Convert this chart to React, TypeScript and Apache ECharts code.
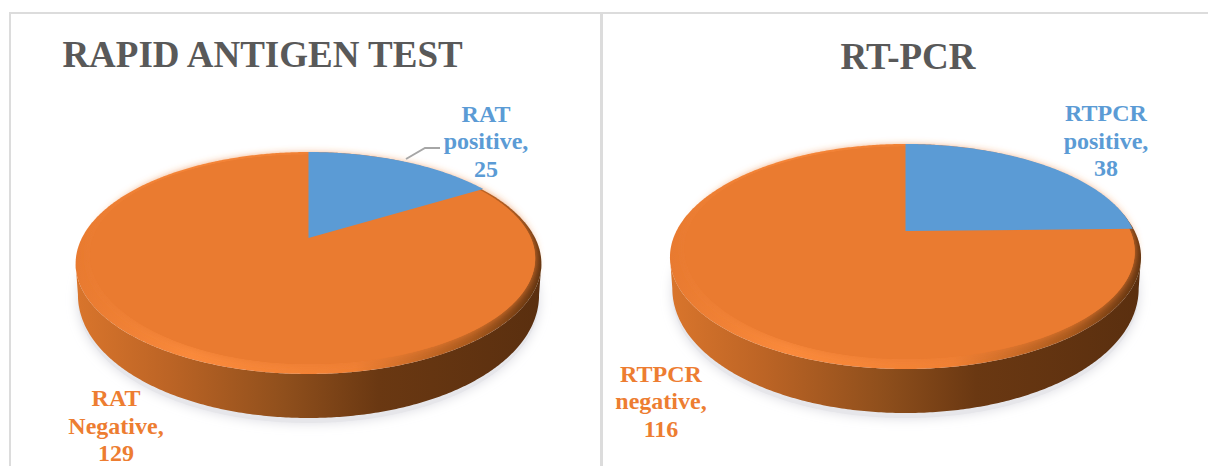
import React, { useEffect, useRef } from "react";
import * as echarts from "echarts";

const ratTitle = "RAPID ANTIGEN TEST";
const ratCategories = ["RAT positive", "RAT Negative"];
const ratValues = [25, 129];
const pcrTitle = "RT-PCR";
const pcrCategories = ["RTPCR positive", "RTPCR negative"];
const pcrValues = [38, 116];
const sliceColors = ["#5B9BD5", "#EA7B30"];

type Layout = {
  cx: number; cy: number; a: number; b: number; k: number;
  labels: number[][];
};
const ratLayout: Layout = {
  cx: 308.5, cy: 238, a: 228, b: 103.5, k: 0.2037,
  labels: [[486, 141], [116, 425.5]],
};
const pcrLayout: Layout = {
  cx: 905.5, cy: 231, a: 230.5, b: 104.9, k: 0.2055,
  labels: [[1106, 140.5], [661, 401]],
};

const project = (L: Layout, th: number) => {
  const u = Math.sin(th), v = Math.cos(th), w = 1 + L.k * v;
  return { x: (L.a * u) / w, y: -(L.b * v) / w, v, u };
};
const facePoint = (L: Layout, th: number) => {
  const p = project(L, th);
  const inset = (p.u > 0 ? 0.01 : 0.04) * (1 - p.v);
  return [L.cx + p.x * (1 - inset), L.cy + p.y];
};
const glowPoint = (L: Layout, th: number) => {
  const p = facePoint(L, th);
  return [L.cx + (p[0] - L.cx) * 0.985, L.cy + (p[1] - L.cy) * 0.97];
};
const rimPoint = (L: Layout, th: number) => {
  const p = project(L, th);
  return [L.cx + p.x, L.cy + p.y + 3 * (1 - p.v)];
};
const basePoint = (L: Layout, th: number) => {
  const p = project(L, th);
  return [L.cx + p.x * 0.99, L.cy + p.y + 3 * (1 - p.v) + 28 - 16 * p.v];
};
const sample = (fn: (L: Layout, t: number) => number[], L: Layout, t0: number, t1: number) => {
  const n = Math.max(4, Math.ceil(Math.abs(t1 - t0) / 0.01));
  const pts: number[][] = [];
  for (let i = 0; i <= n; i++) pts.push(fn(L, t0 + ((t1 - t0) * i) / n));
  return pts;
};

const TAU = Math.PI * 2;
const FONT_LABEL = 'bold 24px "Liberation Serif"';

const bodySeries = (L: Layout) => ({
  type: "custom",
  coordinateSystem: "none",
  silent: true,
  z: 1,
  data: [[1]],
  renderItem: () => {
    const tR = Math.acos(-L.k);
    const tL = TAU - tR;
    const side = [...sample(basePoint, L, tR, tL), ...sample(rimPoint, L, tL, tR)];
    const shadowPts = sample(basePoint, L, 0, TAU).map((p) => [L.cx + (p[0] - L.cx) * 1.0, p[1] + 5]);
    return {
      type: "group",
      children: [
        {
          type: "polygon",
          shape: { points: shadowPts },
          style: { fill: "#e6e6ea", shadowBlur: 12, shadowColor: "#dcdce2" },
        },
        {
          type: "polygon",
          shape: { points: side },
          style: {
            fill: new echarts.graphic.LinearGradient(0, 0, 1, 0, [
              { offset: 0, color: "#d9752c" },
              { offset: 0.2, color: "#bc6425" },
              { offset: 0.45, color: "#8f4f1c" },
              { offset: 0.65, color: "#6a3812" },
              { offset: 1, color: "#5a2f0f" },
            ]),
          },
        },
        {
          type: "polygon",
          shape: { points: sample(rimPoint, L, 0, TAU) },
          style: {
            fill: new echarts.graphic.LinearGradient(0, 0, 1, 0, [
              { offset: 0, color: "#e87a30" },
              { offset: 0.25, color: "#fa8a3c" },
              { offset: 0.6, color: "#f08034" },
              { offset: 0.85, color: "#a9591d" },
              { offset: 1, color: "#5e3210" },
            ]),
          },
        },
        {
          type: "polygon",
          shape: { points: sample(glowPoint, L, 0, TAU) },
          style: { fill: sliceColors[1], shadowBlur: 9, shadowColor: sliceColors[1] },
        },
      ],
    };
  },
});

const sliceSeries = (L: Layout, names: string[], values: number[], title: string) => {
  const total = values.reduce((s, v) => s + v, 0);
  return {
    type: "custom",
    name: title,
    coordinateSystem: "none",
    silent: true,
    z: 2,
    data: names.map((n, i) => ({ name: n, value: [values[i]] })),
    renderItem: (params: any, api: any) => {
      const i = params.dataIndex;
      let before = 0;
      for (let j = 0; j < i; j++) before += values[j];
      const t0 = (before / total) * TAU;
      const t1 = ((before + api.value(0)) / total) * TAU;
      const pts = [[L.cx, L.cy], ...sample(i === 0 ? facePoint : glowPoint, L, t0, t1)];
      return {
        type: "group",
        children: [
          { type: "polygon", z2: i === 0 ? 5 : 1, shape: { points: pts }, style: { fill: sliceColors[i] } },
          {
            type: "text",
            z2: 10,
            style: {
              text: `${names[i].replace(" ", "\n")},\n${values[i]}`,
              x: L.labels[i][0],
              y: L.labels[i][1],
              align: "center",
              verticalAlign: "middle",
              lineHeight: 27.5,
              font: FONT_LABEL,
              fill: i === 0 ? "#5B9BD5" : "#ED7D31",
            },
          },
        ],
      };
    },
  };
};

export default function App() {
  const ref = useRef<HTMLDivElement>(null);
  useEffect(() => {
    const chart = echarts.init(ref.current!, null, { renderer: "svg" });
    chart.setOption({
      animation: false,
      backgroundColor: "#ffffff",
      title: [
        {
          text: ratTitle,
          left: 257.5,
          textAlign: "center",
          top: 31,
          textStyle: { fontFamily: "Liberation Serif", fontWeight: "bold", fontSize: 37, color: "#595959" },
        },
        {
          text: pcrTitle,
          left: 903,
          textAlign: "center",
          top: 33,
          textStyle: { fontFamily: "Liberation Serif", fontWeight: "bold", fontSize: 37, color: "#595959" },
        },
      ],
      graphic: [
        { type: "rect", silent: true, shape: { x: 9, y: 12, width: 1199, height: 2 }, style: { fill: "#dcdcdc" } },
        { type: "rect", silent: true, shape: { x: 9, y: 12, width: 2, height: 454 }, style: { fill: "#dcdcdc" } },
        { type: "rect", silent: true, shape: { x: 600, y: 12, width: 3, height: 454 }, style: { fill: "#dcdcdc" } },
        {
          type: "polyline",
          silent: true,
          z: 5,
          shape: { points: [[406, 159], [425, 148], [440, 148]] },
          style: { stroke: "#a6a6a6", lineWidth: 2, fill: "none" },
        },
      ],
      series: [
        bodySeries(ratLayout),
        sliceSeries(ratLayout, ratCategories, ratValues, ratTitle),
        bodySeries(pcrLayout),
        sliceSeries(pcrLayout, pcrCategories, pcrValues, pcrTitle),
      ],
    });
    return () => chart.dispose();
  }, []);
  return <div ref={ref} style={{ position: "absolute", left: 0, top: 0, width: 1208, height: 466 }} />;
}
